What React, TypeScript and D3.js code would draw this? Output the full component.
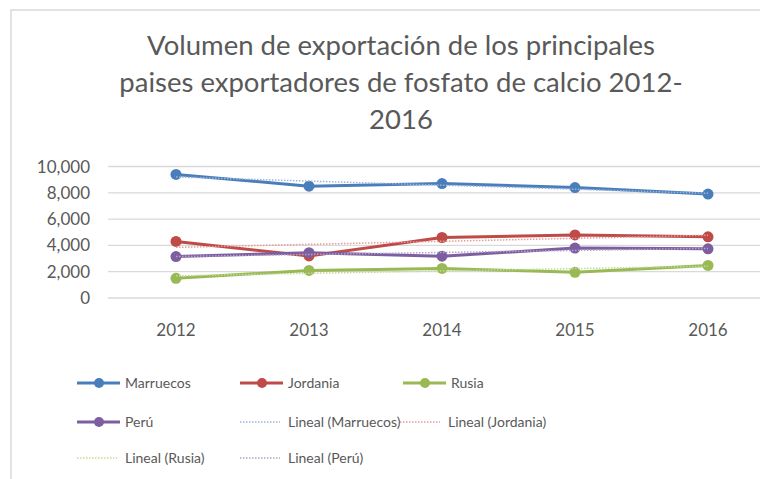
import React from "react";
import * as d3 from "d3";

const years = ["2012", "2013", "2014", "2015", "2016"];
const marruecos = [9400, 8500, 8700, 8400, 7900];
const jordania = [4300, 3200, 4600, 4800, 4650];
const rusia = [1500, 2100, 2250, 1950, 2480];
const peru = [3150, 3450, 3180, 3800, 3740];
const yTicks = [0, 2000, 4000, 6000, 8000, 10000];
const titleLines = [
  "Volumen  de exportación de los principales",
  "paises exportadores de fosfato de calcio 2012-",
  "2016",
];

const seriesNames = ["Marruecos", "Jordania", "Rusia", "Perú"];
const seriesColors = ["#4a7ebb", "#be4b48", "#98b954", "#7d5fa0"];
const trendColors = ["#9bb4dc", "#e49c9a", "#c3d99a", "#b3a2cc"];
const seriesData = [marruecos, jordania, rusia, peru];

const W = 760;
const H = 479;
const FONT = "Lato, 'Open Sans', sans-serif";

function linearFit(vals: number[]) {
  const xs = vals.map((_, i) => i + 1);
  const mx = d3.mean(xs) as number;
  const my = d3.mean(vals) as number;
  let num = 0, den = 0;
  xs.forEach((x, i) => { num += (x - mx) * (vals[i] - my); den += (x - mx) ** 2; });
  const b = num / den;
  const a = my - b * mx;
  return xs.map((x) => a + b * x);
}

export default function App() {
  const x = d3.scaleBand<string>().domain(years).range([109.5, 109.5 + 133 * 5]);
  const y = d3.scaleLinear().domain([0, 10000]).range([298, 166.5]);
  const cx = (d: string) => (x(d) as number) + x.bandwidth() / 2;
  const line = d3.line<number>().x((_, i) => cx(years[i])).y((v) => y(v));
  const fmt = d3.format(",");

  const legendItems = [
    { label: "Marruecos", x: 77, y: 383, color: seriesColors[0], trend: false },
    { label: "Jordania", x: 240, y: 383, color: seriesColors[1], trend: false },
    { label: "Rusia", x: 403, y: 383, color: seriesColors[2], trend: false },
    { label: "Perú", x: 77, y: 422, color: seriesColors[3], trend: false },
    { label: "Lineal (Marruecos)", x: 240, y: 422, color: trendColors[0], trend: true },
    { label: "Lineal (Jordania)", x: 400, y: 422, color: trendColors[1], trend: true },
    { label: "Lineal (Rusia)", x: 77, y: 458, color: trendColors[2], trend: true },
    { label: "Lineal (Perú)", x: 240, y: 458, color: trendColors[3], trend: true },
  ];

  return (
    <svg width={W} height={H} style={{ position: "absolute", left: 0, top: 0, background: "#fff" }}>
      <rect x={11} y={10} width={W + 10} height={H + 10} fill="#fff" stroke="#d9d9d9" strokeWidth={1.5} />
      {titleLines.map((t, i) => (
        <text key={i} x={401} y={55 + i * 37} textAnchor="middle" fontFamily={FONT} fontSize={27.5} fill="#595959">
          {t}
        </text>
      ))}
      {yTicks.map((t) => (
        <g key={t}>
          <line x1={108} x2={W} y1={y(t)} y2={y(t)} stroke="#d9d9d9" strokeWidth={1.3} />
          <text x={90} y={y(t) + 6} textAnchor="end" fontFamily={FONT} fontSize={17} fill="#595959">
            {fmt(t)}
          </text>
        </g>
      ))}
      {years.map((yr) => (
        <text key={yr} x={cx(yr)} y={336} textAnchor="middle" fontFamily={FONT} fontSize={17} fill="#595959">
          {yr}
        </text>
      ))}
      {seriesData.map((d, si) => (
        <g key={seriesNames[si]}>
          <path d={line(d) || ""} fill="none" stroke={seriesColors[si]} strokeWidth={3} strokeLinejoin="round" />
          {d.map((v, i) => (
            <circle key={i} cx={cx(years[i])} cy={y(v)} r={5.5} fill={seriesColors[si]} />
          ))}
        </g>
      ))}
      {seriesData.map((d, si) => (
        <path key={"t" + si} d={line(linearFit(d)) || ""} fill="none" stroke={trendColors[si]} strokeWidth={1.5} strokeDasharray="1.5 1.5" />
      ))}
      {legendItems.map((it) => (
        <g key={it.label}>
          {it.trend ? (
            <line x1={it.x} x2={it.x + 40} y1={it.y} y2={it.y} stroke={it.color} strokeWidth={1.5} strokeDasharray="1.5 1.5" />
          ) : (
            <g>
              <line x1={it.x} x2={it.x + 43} y1={it.y} y2={it.y} stroke={it.color} strokeWidth={3} />
              <circle cx={it.x + 22} cy={it.y} r={5} fill={it.color} />
            </g>
          )}
          <text x={it.x + 48} y={it.y + 5} fontFamily={FONT} fontSize={14} fill="#595959">
            {it.label}
          </text>
        </g>
      ))}
    </svg>
  );
}
